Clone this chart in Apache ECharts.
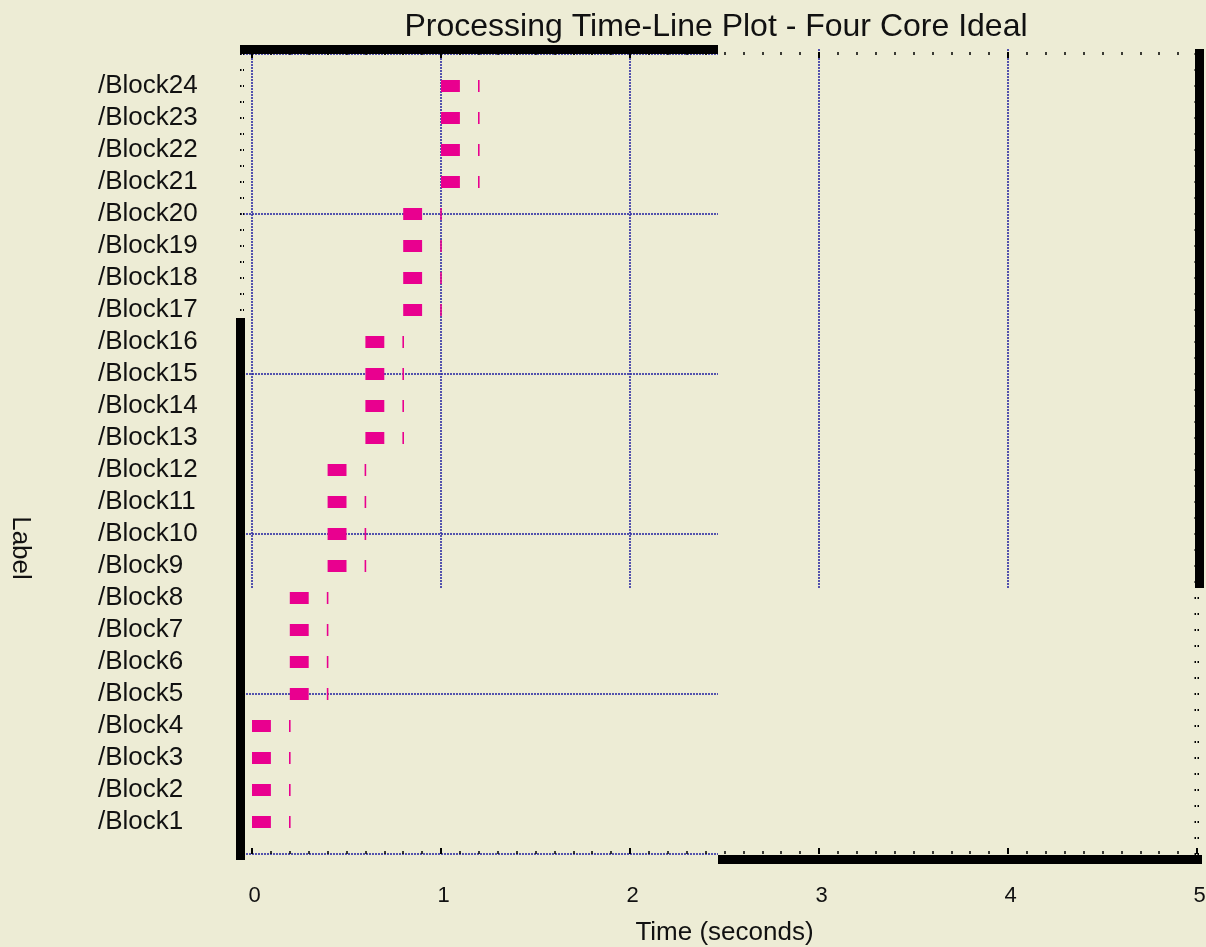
<!DOCTYPE html>
<html>
<head>
<meta charset="utf-8">
<title>Processing Time-Line Plot</title>
<script src="https://cdn.jsdelivr.net/npm/echarts@6/dist/echarts.min.js"></script>
<style>
  html, body { margin: 0; padding: 0; background: #edecd5; }
  #chart { width: 1206px; height: 947px; }
</style>
</head>
<body>
<div id="chart"></div>
<script>
// Processing blocks, bottom row first
const blockNames = [
  '/Block1', '/Block2', '/Block3', '/Block4',
  '/Block5', '/Block6', '/Block7', '/Block8',
  '/Block9', '/Block10', '/Block11', '/Block12',
  '/Block13', '/Block14', '/Block15', '/Block16',
  '/Block17', '/Block18', '/Block19', '/Block20',
  '/Block21', '/Block22', '/Block23', '/Block24'
];
// time each block starts processing (s)
const busyStart = [
  0.0, 0.0, 0.0, 0.0,
  0.2, 0.2, 0.2, 0.2,
  0.4, 0.4, 0.4, 0.4,
  0.6, 0.6, 0.6, 0.6,
  0.8, 0.8, 0.8, 0.8,
  1.0, 1.0, 1.0, 1.0
];
// time each block finishes processing (s)
const busyEnd = [
  0.1, 0.1, 0.1, 0.1,
  0.3, 0.3, 0.3, 0.3,
  0.5, 0.5, 0.5, 0.5,
  0.7, 0.7, 0.7, 0.7,
  0.9, 0.9, 0.9, 0.9,
  1.1, 1.1, 1.1, 1.1
];
// time each block's output is released (s)
const releaseTime = [
  0.2, 0.2, 0.2, 0.2,
  0.4, 0.4, 0.4, 0.4,
  0.6, 0.6, 0.6, 0.6,
  0.8, 0.8, 0.8, 0.8,
  1.0, 1.0, 1.0, 1.0,
  1.2, 1.2, 1.2, 1.2
];
// time axis range and label step (s)
const timeMin = 0;
const timeMax = 5;
const timeStep = 1;

const PINK = '#e9008f';
const GRID_BLUE = '#2c2ca2';
const INK = '#111111';
const FONT = '"Liberation Sans", Arial, sans-serif';

const rowMax = blockNames.length + 1;

const busyData = blockNames.map((n, i) => [busyStart[i], busyEnd[i], i + 1, n]);
const releaseData = blockNames.map((n, i) => [releaseTime[i], i + 1, n]);

const gridLine = { show: true, lineStyle: { color: GRID_BLUE, type: [2, 1], width: 2, opacity: 0.8 } };
const noLine = { show: false };
const heavyLine = { show: true, onZero: false, lineStyle: { color: '#000', width: 9, cap: 'butt' } };
const hiddenLine = { show: false, onZero: false };
const dotTick = { color: '#000', width: 2, type: [1.5, 1.5] };

// fixed-size grid boxes: no automatic shrinking to fit labels
const box = (o) => Object.assign({ containLabel: false, outerBoundsMode: 'none' }, o);

const chart = echarts.init(document.getElementById('chart'), null, { renderer: 'canvas' });

chart.setOption({
  backgroundColor: '#edecd5',
  animation: false,
  textStyle: { fontFamily: FONT },
  title: {
    text: 'Processing Time-Line Plot - Four Core Ideal',
    left: 711,
    top: 6,
    textAlign: 'center',
    textStyle: { fontFamily: FONT, fontSize: 32, fontWeight: 'normal', color: INK }
  },
  graphic: [{
    type: 'text',
    x: 20,
    y: 548,
    rotation: -Math.PI / 2,
    style: {
      text: 'Label',
      font: '26px ' + FONT,
      fill: INK,
      textAlign: 'center',
      textVerticalAlign: 'middle'
    }
  }],
  grid: [
    // 0: data area
    box({ left: 252, top: 54, width: 945, height: 800 }),
    // 1: left half (row grid lines, upper frame bar)
    box({ left: 240, top: 54, width: 478, height: 800 }),
    // 2: upper two thirds (time grid lines, right frame bar)
    box({ left: 252, top: 49, width: 945, height: 539 }),
    // 3: lower left frame bar
    box({ left: 240, top: 318, width: 100, height: 542 }),
    // 4: lower right frame bar
    box({ left: 718, top: 700, width: 484, height: 159.5 })
  ],
  xAxis: [
    {
      gridIndex: 0, type: 'value', position: 'bottom',
      min: timeMin, max: timeMax, interval: timeStep,
      axisLine: hiddenLine,
      axisTick: { show: true, inside: true, length: 6, lineStyle: { color: '#000', width: 2 } },
      minorTick: { show: true, splitNumber: 10, length: 3, lineStyle: { color: '#000', width: 1.5 } },
      splitLine: noLine,
      axisLabel: {
        show: true, margin: 31, fontSize: 22, color: INK, fontFamily: FONT,
        padding: [0, 0, 0, 5]
      },
      name: 'Time (seconds)', nameLocation: 'middle', nameGap: 66,
      nameTextStyle: { fontSize: 26, color: INK, fontFamily: FONT }
    },
    {
      gridIndex: 0, type: 'value', position: 'top', offset: 2,
      min: timeMin, max: timeMax, interval: timeStep,
      axisLine: hiddenLine,
      axisTick: { show: true, inside: true, length: 6, lineStyle: { color: '#000', width: 2 } },
      minorTick: { show: true, splitNumber: 10, length: 3, lineStyle: { color: '#000', width: 1.5 } },
      splitLine: noLine,
      axisLabel: { show: false }
    },
    {
      gridIndex: 1, type: 'value', position: 'top', offset: 4.5, z: 5,
      min: 0, max: 1,
      axisLine: heavyLine, axisTick: noLine, axisLabel: { show: false }, splitLine: noLine
    },
    {
      gridIndex: 2, type: 'value', position: 'bottom',
      min: timeMin, max: timeMax, interval: timeStep,
      axisLine: hiddenLine, axisTick: noLine, axisLabel: { show: false },
      splitLine: gridLine
    },
    { gridIndex: 3, type: 'value', show: false },
    {
      gridIndex: 4, type: 'value', position: 'bottom', z: 5,
      min: 0, max: 1,
      axisLine: heavyLine, axisTick: noLine, axisLabel: { show: false }, splitLine: noLine
    }
  ],
  yAxis: [
    {
      gridIndex: 0, type: 'value', position: 'left', offset: 12,
      min: 0, max: rowMax, interval: 1,
      axisLine: hiddenLine,
      axisTick: { show: true, inside: true, length: 4, lineStyle: dotTick },
      minorTick: { show: true, splitNumber: 2, length: 4, lineStyle: dotTick },
      splitLine: noLine,
      axisLabel: {
        show: true, margin: 142, align: 'left', fontSize: 26, color: INK, fontFamily: FONT,
        padding: [0, 0, 12, 0],
        formatter: v => blockNames[v - 1] || ''
      }
    },
    {
      gridIndex: 0, type: 'value', position: 'right', offset: 2,
      min: 0, max: rowMax, interval: 1,
      axisLine: hiddenLine,
      axisTick: { show: true, inside: true, length: 6, lineStyle: dotTick },
      minorTick: { show: true, splitNumber: 2, length: 6, lineStyle: dotTick },
      splitLine: noLine,
      axisLabel: { show: false }
    },
    {
      gridIndex: 1, type: 'value', position: 'left',
      min: 0, max: rowMax, interval: 5,
      axisLine: hiddenLine, axisTick: noLine, axisLabel: { show: false },
      splitLine: gridLine
    },
    {
      gridIndex: 2, type: 'value', position: 'right', offset: 2.5, z: 5,
      min: 0, max: 1,
      axisLine: heavyLine, axisTick: noLine, axisLabel: { show: false }, splitLine: noLine
    },
    {
      gridIndex: 3, type: 'value', position: 'left', z: 5,
      min: 0, max: 1,
      axisLine: heavyLine, axisTick: noLine, axisLabel: { show: false }, splitLine: noLine
    },
    { gridIndex: 4, type: 'value', show: false }
  ],
  series: [
    {
      name: 'Processing',
      type: 'custom',
      xAxisIndex: 0, yAxisIndex: 0,
      z: 3,
      data: busyData,
      encode: { x: [0, 1], y: 2 },
      renderItem: (params, api) => {
        const a = api.coord([api.value(0), api.value(2)]);
        const b = api.coord([api.value(1), api.value(2)]);
        const h = 12;
        return {
          type: 'rect',
          shape: { x: a[0], y: a[1] - h / 2, width: b[0] - a[0], height: h },
          style: { fill: PINK }
        };
      }
    },
    {
      name: 'Release',
      type: 'custom',
      xAxisIndex: 0, yAxisIndex: 0,
      z: 3,
      data: releaseData,
      encode: { x: 0, y: 1 },
      renderItem: (params, api) => {
        const p = api.coord([api.value(0), api.value(1)]);
        const h = 12;
        return {
          type: 'line',
          shape: { x1: p[0], y1: p[1] - h / 2, x2: p[0], y2: p[1] + h / 2 },
          style: { stroke: PINK, lineWidth: 1.6 }
        };
      }
    }
  ]
});
</script>
</body>
</html>
